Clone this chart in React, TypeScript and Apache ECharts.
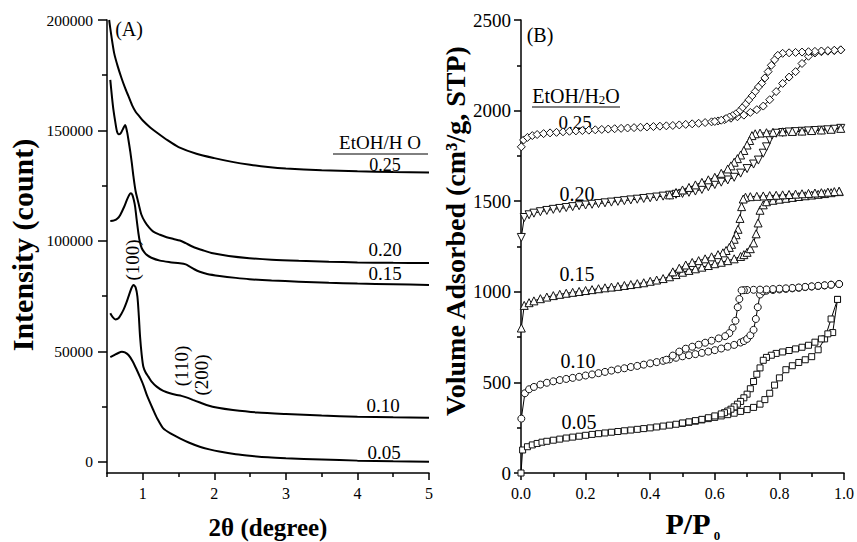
import React, { useEffect, useRef } from "react";
import * as echarts from "echarts";

const FONT = '"Liberation Serif", "Times New Roman", Times, serif';
const LABEL_FAMILY = "'Liberation Serif', 'Times New Roman', serif";

// ---------- Panel A: XRD (2theta vs intensity) ----------
const xrdX_005 = [0.546, 0.6, 0.65, 0.708, 0.75, 0.8, 0.86, 0.917, 0.96, 1.008, 1.06, 1.147, 1.2, 1.286, 1.4, 1.518, 1.65, 1.796, 1.93, 2.07, 2.3, 2.53, 2.75, 3.0, 3.5, 4.0, 4.5, 5.0];
const xrdY_005 = [47400, 48300, 49200, 49900, 49600, 48400, 45500, 41600, 38500, 34800, 30000, 23500, 19800, 15200, 12700, 10700, 8700, 6900, 5700, 4700, 3500, 2700, 2100, 1700, 1100, 600, 300, 100];

const xrdX_010 = [0.546, 0.58, 0.62, 0.66, 0.7, 0.73, 0.77, 0.8, 0.84, 0.87, 0.9, 0.925, 0.945, 0.962, 0.985, 1.008, 1.04, 1.078, 1.12, 1.194, 1.28, 1.38, 1.46, 1.54, 1.62, 1.7, 1.79, 1.89, 2.05, 2.26, 2.6, 3.0, 3.5, 4.0, 4.5, 5.0];
const xrdY_010 = [67300, 65500, 64500, 65000, 67000, 68800, 72000, 74800, 78500, 80100, 79000, 74800, 66000, 56700, 48500, 43100, 40500, 38600, 36500, 34100, 32300, 31100, 30400, 29900, 29100, 28100, 27000, 25800, 24500, 23500, 22400, 21700, 21000, 20500, 20200, 20000];

const xrdX_015 = [0.546, 0.6, 0.65, 0.685, 0.74, 0.778, 0.81, 0.833, 0.855, 0.875, 0.893, 0.915, 0.939, 0.96, 0.986, 1.02, 1.056, 1.12, 1.24, 1.38, 1.518, 1.6, 1.657, 1.72, 1.796, 1.9, 2.074, 2.3, 2.49, 2.8, 3.18, 3.6, 4.0, 4.5, 5.0];
const xrdY_015 = [109000, 109300, 110300, 111800, 115500, 118600, 120800, 121600, 120800, 118500, 115500, 109500, 103500, 99500, 96700, 95000, 93700, 92400, 91100, 90400, 89900, 89400, 88400, 87200, 86100, 85100, 84200, 83300, 82700, 82100, 81600, 81100, 80700, 80400, 80100];

const xrdX_020 = [0.546, 0.57, 0.59, 0.615, 0.64, 0.665, 0.69, 0.72, 0.754, 0.78, 0.8, 0.825, 0.847, 0.87, 0.9, 0.94, 0.98, 1.03, 1.09, 1.147, 1.24, 1.333, 1.43, 1.518, 1.6, 1.7, 1.84, 1.98, 2.2, 2.49, 2.8, 3.18, 3.6, 4.0, 4.5, 5.0];
const xrdY_020 = [172900, 165000, 159300, 154000, 149500, 148300, 148700, 150500, 152500, 149500, 145700, 140500, 135200, 129100, 122500, 117100, 112000, 108700, 106000, 104200, 102800, 101700, 100900, 100200, 99000, 97400, 95800, 94400, 93200, 92200, 91500, 91000, 90600, 90300, 90100, 90000];

const xrdX_025 = [0.53, 0.56, 0.6, 0.65, 0.7, 0.75, 0.8, 0.85, 0.9, 0.95, 1.0, 1.1, 1.2, 1.35, 1.5, 1.75, 2.0, 2.25, 2.5, 2.75, 3.0, 3.5, 4.0, 4.5, 5.0];
const xrdY_025 = [200000, 193000, 185000, 179000, 174000, 169500, 165500, 161500, 158500, 156500, 154500, 151500, 149000, 145500, 142500, 139500, 137500, 135800, 134500, 133500, 132800, 132000, 131500, 131200, 131000];

const xrdTicksMajor = [1, 2, 3, 4, 5];
const xrdTicksMinor = [0.5, 1.5, 2.5, 3.5, 4.5];
const intensityTicksMajor = [0, 50000, 100000, 150000, 200000];
const intensityTicksMinor = [25000, 75000, 125000, 175000];

// ---------- Panel B: N2 isotherms ----------
const adsX_005 = [0.0, 0.005, 0.02, 0.035, 0.05, 0.065, 0.08, 0.1, 0.12, 0.14, 0.16, 0.18, 0.2, 0.22, 0.24, 0.26, 0.28, 0.3, 0.32, 0.34, 0.36, 0.38, 0.4, 0.42, 0.44, 0.46, 0.48, 0.5, 0.52, 0.54, 0.56, 0.58, 0.6, 0.62, 0.64, 0.66, 0.68, 0.7, 0.72, 0.74, 0.755, 0.77, 0.785, 0.8, 0.82, 0.84, 0.86, 0.88, 0.9, 0.92, 0.94, 0.96, 0.98];
const adsY_005 = [0, 127, 145, 155, 163, 170, 175, 181, 187, 193, 198, 203, 208, 213, 217, 221, 225, 229, 233, 237, 241, 245, 249, 254, 259, 264, 269, 274, 280, 286, 293, 300, 307, 315, 322, 330, 340, 350, 362, 380, 405, 440, 485, 525, 570, 592, 610, 625, 642, 680, 740, 850, 958];
const desX_005 = [0.98, 0.965, 0.95, 0.93, 0.91, 0.89, 0.87, 0.85, 0.83, 0.81, 0.79, 0.775, 0.76, 0.75, 0.74, 0.73, 0.72, 0.71, 0.7, 0.69, 0.68, 0.67, 0.66, 0.65, 0.64, 0.63, 0.62, 0.6, 0.58, 0.56, 0.54, 0.52, 0.5];
const desY_005 = [958, 775, 768, 740, 722, 705, 694, 685, 676, 668, 660, 650, 638, 622, 580, 545, 505, 465, 435, 415, 395, 380, 365, 352, 342, 333, 326, 315, 305, 296, 289, 282, 276];

const adsX_010 = [0.001, 0.012, 0.025, 0.04, 0.06, 0.08, 0.1, 0.12, 0.14, 0.16, 0.18, 0.2, 0.22, 0.24, 0.26, 0.28, 0.3, 0.32, 0.34, 0.36, 0.38, 0.4, 0.42, 0.44, 0.46, 0.48, 0.5, 0.52, 0.54, 0.56, 0.58, 0.6, 0.62, 0.64, 0.66, 0.68, 0.69, 0.7, 0.71, 0.72, 0.727, 0.733, 0.74, 0.75, 0.76, 0.78, 0.8, 0.82, 0.84, 0.86, 0.88, 0.9, 0.92, 0.94, 0.96, 0.985];
const adsY_010 = [300, 440, 462, 475, 488, 498, 506, 513, 519, 525, 531, 538, 544, 551, 558, 565, 572, 578, 585, 591, 598, 605, 612, 619, 627, 636, 644, 650, 656, 663, 670, 678, 687, 697, 707, 720, 728, 740, 760, 790, 850, 915, 985, 1002, 1006, 1010, 1013, 1016, 1019, 1022, 1026, 1029, 1032, 1035, 1039, 1043];
const desX_010 = [0.985, 0.96, 0.94, 0.92, 0.9, 0.88, 0.86, 0.84, 0.82, 0.8, 0.78, 0.76, 0.74, 0.72, 0.7, 0.69, 0.683, 0.676, 0.671, 0.664, 0.655, 0.645, 0.632, 0.612, 0.59, 0.57, 0.55, 0.53, 0.51, 0.49, 0.47, 0.45];
const desY_010 = [1043, 1039, 1036, 1033, 1030, 1027, 1024, 1021, 1019, 1017, 1015, 1013, 1012, 1011, 1010, 1009, 1008, 960, 915, 840, 800, 772, 755, 743, 730, 719, 708, 697, 686, 670, 648, 625];

const adsX_015 = [0.001, 0.01, 0.025, 0.04, 0.06, 0.08, 0.1, 0.12, 0.14, 0.16, 0.18, 0.2, 0.22, 0.24, 0.26, 0.28, 0.3, 0.32, 0.34, 0.36, 0.38, 0.4, 0.42, 0.44, 0.46, 0.48, 0.5, 0.52, 0.54, 0.56, 0.58, 0.6, 0.62, 0.64, 0.66, 0.68, 0.69, 0.7, 0.71, 0.72, 0.728, 0.734, 0.74, 0.75, 0.76, 0.78, 0.8, 0.82, 0.84, 0.86, 0.88, 0.9, 0.92, 0.94, 0.96, 0.985];
const adsY_015 = [800, 925, 940, 950, 962, 971, 979, 986, 992, 997, 1002, 1007, 1012, 1017, 1022, 1026, 1030, 1035, 1040, 1045, 1050, 1058, 1065, 1073, 1083, 1095, 1108, 1118, 1127, 1136, 1145, 1155, 1163, 1172, 1182, 1195, 1205, 1218, 1238, 1270, 1320, 1380, 1450, 1480, 1497, 1505, 1511, 1516, 1521, 1526, 1530, 1534, 1538, 1542, 1547, 1553];
const desX_015 = [0.985, 0.97, 0.95, 0.93, 0.91, 0.89, 0.87, 0.85, 0.83, 0.81, 0.79, 0.77, 0.75, 0.73, 0.71, 0.695, 0.688, 0.683, 0.678, 0.672, 0.666, 0.66, 0.652, 0.645, 0.635, 0.625, 0.61, 0.59, 0.57, 0.55, 0.53, 0.51, 0.49, 0.47];
const desY_015 = [1555, 1553, 1550, 1547, 1545, 1543, 1541, 1539, 1537, 1535, 1533, 1531, 1529, 1527, 1525, 1522, 1512, 1470, 1405, 1345, 1315, 1290, 1262, 1245, 1228, 1215, 1205, 1193, 1182, 1172, 1162, 1148, 1130, 1110];

const adsX_020 = [0.001, 0.01, 0.025, 0.04, 0.06, 0.08, 0.1, 0.12, 0.14, 0.16, 0.18, 0.2, 0.22, 0.24, 0.26, 0.28, 0.3, 0.32, 0.34, 0.36, 0.38, 0.4, 0.42, 0.44, 0.46, 0.48, 0.5, 0.52, 0.54, 0.56, 0.58, 0.6, 0.62, 0.64, 0.66, 0.68, 0.7, 0.72, 0.735, 0.75, 0.76, 0.77, 0.777, 0.79, 0.81, 0.83, 0.85, 0.87, 0.89, 0.91, 0.93, 0.95, 0.97, 0.99];
const adsY_020 = [1300, 1410, 1425, 1434, 1442, 1449, 1455, 1460, 1465, 1470, 1475, 1479, 1483, 1487, 1491, 1495, 1499, 1503, 1507, 1511, 1515, 1519, 1523, 1528, 1533, 1538, 1543, 1549, 1556, 1565, 1580, 1592, 1605, 1617, 1632, 1655, 1680, 1705, 1727, 1765, 1800, 1840, 1865, 1875, 1879, 1882, 1884, 1886, 1888, 1890, 1892, 1894, 1897, 1902];
const desX_020 = [0.99, 0.96, 0.93, 0.9, 0.87, 0.84, 0.81, 0.78, 0.76, 0.74, 0.725, 0.715, 0.708, 0.7, 0.69, 0.68, 0.67, 0.66, 0.65, 0.64, 0.62, 0.6, 0.58, 0.56, 0.54, 0.52, 0.5, 0.48, 0.46];
const desY_020 = [1902, 1897, 1893, 1890, 1887, 1885, 1883, 1880, 1878, 1876, 1872, 1862, 1835, 1810, 1780, 1755, 1735, 1715, 1695, 1678, 1654, 1632, 1618, 1604, 1590, 1576, 1562, 1548, 1535];

const adsX_025 = [0.001, 0.008, 0.02, 0.035, 0.05, 0.07, 0.09, 0.11, 0.13, 0.15, 0.17, 0.19, 0.21, 0.23, 0.25, 0.27, 0.29, 0.31, 0.33, 0.35, 0.37, 0.39, 0.41, 0.43, 0.45, 0.47, 0.49, 0.51, 0.53, 0.55, 0.57, 0.59, 0.61, 0.63, 0.65, 0.67, 0.69, 0.71, 0.73, 0.75, 0.77, 0.79, 0.81, 0.83, 0.85, 0.87, 0.89, 0.91, 0.93, 0.95, 0.97, 0.99];
const adsY_025 = [1800, 1838, 1852, 1862, 1868, 1873, 1877, 1880, 1883, 1886, 1888, 1890, 1892, 1894, 1896, 1898, 1900, 1902, 1904, 1906, 1908, 1910, 1912, 1914, 1916, 1918, 1921, 1924, 1927, 1930, 1934, 1938, 1943, 1950, 1958, 1966, 1975, 1990, 2005, 2025, 2060, 2105, 2150, 2185, 2215, 2260, 2300, 2318, 2325, 2328, 2331, 2335];
const desX_025 = [0.99, 0.97, 0.95, 0.93, 0.91, 0.89, 0.87, 0.85, 0.83, 0.81, 0.795, 0.785, 0.775, 0.765, 0.755, 0.745, 0.735, 0.725, 0.715, 0.705, 0.695, 0.685, 0.675, 0.665, 0.655, 0.645, 0.635, 0.62, 0.6];
const desY_025 = [2335, 2333, 2331, 2329, 2327, 2325, 2323, 2321, 2319, 2316, 2305, 2280, 2250, 2215, 2180, 2150, 2130, 2105, 2080, 2058, 2035, 2015, 1995, 1982, 1972, 1964, 1956, 1947, 1940];

const pairs = (xs: number[], ys: number[]) => xs.map((x, i) => [x, ys[i]]);

function xrdSeries(xs: number[], ys: number[]) {
  return {
    type: "line",
    xAxisIndex: 0,
    yAxisIndex: 0,
    data: pairs(xs, ys),
    showSymbol: false,
    smooth: 0.25,
    silent: true,
    lineStyle: { color: "#000", width: 2 },
  };
}

function isoSeries(xs: number[], ys: number[], symbol: string, rotate = 0, size = 7) {
  return {
    type: "line",
    xAxisIndex: 2,
    yAxisIndex: 2,
    data: pairs(xs, ys),
    showSymbol: true,
    symbol,
    symbolSize: size,
    symbolRotate: rotate,
    silent: true,
    lineStyle: { color: "#000", width: 1 },
    itemStyle: { color: "#fff", borderColor: "#111", borderWidth: 1 },
  };
}

const axisLineStyle = { color: "#000", width: 1.5 };
const plain = (v: number) => String(v);

function text(x: number, y: number, t: string, size: number, opts: any = {}) {
  return {
    type: "text",
    x,
    y,
    rotation: opts.rotation || 0,
    silent: true,
    style: {
      text: t,
      fill: "#000",
      font: `${opts.bold ? "bold " : ""}${size}px ${FONT}`,
      align: "center",
      verticalAlign: "middle",
    },
  };
}

function uline(x1: number, x2: number, y: number) {
  return { type: "line", silent: true, shape: { x1, y1: y, x2, y2: y }, style: { stroke: "#000", lineWidth: 1 } };
}

export default function App() {
  const ref = useRef<HTMLDivElement>(null);
  useEffect(() => {
    const chart = echarts.init(ref.current!, null, { renderer: "svg" });
    const option: any = {
      animation: false,
      backgroundColor: "#fff",
      textStyle: { fontFamily: LABEL_FAMILY, color: "#000" },
      grid: [
        { left: 107, top: 20, width: 322, height: 453 },
        { left: 521, top: 20, width: 325, height: 453 },
      ],
      xAxis: [
        {
          gridIndex: 0, type: "value", position: "bottom", min: 0.5, max: 5,
          axisLine: { show: true, onZero: false, lineStyle: axisLineStyle },
          axisTick: { show: true, customValues: xrdTicksMajor, length: 7, lineStyle: axisLineStyle },
          axisLabel: { customValues: xrdTicksMajor, color: "#000", fontFamily: LABEL_FAMILY, fontSize: 16, margin: 12, formatter: plain },
          splitLine: { show: false },
        },
        {
          gridIndex: 0, type: "value", position: "bottom", min: 0.5, max: 5,
          axisLine: { show: false, onZero: false },
          axisTick: { show: true, customValues: xrdTicksMinor, length: 4, lineStyle: axisLineStyle },
          axisLabel: { show: false },
          splitLine: { show: false },
        },
        {
          gridIndex: 1, type: "value", position: "bottom", min: 0, max: 1, interval: 0.2,
          axisLine: { show: true, onZero: false, lineStyle: axisLineStyle },
          axisTick: { show: true, length: 7, lineStyle: axisLineStyle },
          minorTick: { show: true, splitNumber: 2, length: 4, lineStyle: axisLineStyle },
          axisLabel: { color: "#000", fontFamily: LABEL_FAMILY, fontSize: 16, margin: 12, formatter: (v: number) => v.toFixed(1) },
          splitLine: { show: false },
        },
      ],
      yAxis: [
        {
          gridIndex: 0, type: "value", position: "left", min: -5000, max: 200000,
          axisLine: { show: true, onZero: false, lineStyle: axisLineStyle },
          axisTick: { show: true, customValues: intensityTicksMajor, length: 9, lineStyle: axisLineStyle },
          axisLabel: { customValues: intensityTicksMajor, color: "#000", fontFamily: LABEL_FAMILY, fontSize: 15.5, margin: 14, formatter: plain },
          splitLine: { show: false },
        },
        {
          gridIndex: 0, type: "value", position: "left", min: -5000, max: 200000,
          axisLine: { show: false, onZero: false },
          axisTick: { show: true, customValues: intensityTicksMinor, length: 5, lineStyle: axisLineStyle },
          axisLabel: { show: false },
          splitLine: { show: false },
        },
        {
          gridIndex: 1, type: "value", position: "left", min: 0, max: 2500, interval: 500,
          axisLine: { show: true, onZero: false, lineStyle: axisLineStyle },
          axisTick: { show: true, length: 7, lineStyle: axisLineStyle },
          minorTick: { show: true, splitNumber: 2, length: 4, lineStyle: axisLineStyle },
          axisLabel: { color: "#000", fontFamily: LABEL_FAMILY, fontSize: 19, margin: 10, formatter: plain },
          splitLine: { show: false },
        },
      ],
      series: [
        xrdSeries(xrdX_005, xrdY_005),
        xrdSeries(xrdX_010, xrdY_010),
        xrdSeries(xrdX_015, xrdY_015),
        xrdSeries(xrdX_020, xrdY_020),
        xrdSeries(xrdX_025, xrdY_025),
        isoSeries(adsX_005, adsY_005, "rect", 0, 6),
        isoSeries(desX_005, desY_005, "rect", 0, 6),
        isoSeries(adsX_010, adsY_010, "circle", 0, 7),
        isoSeries(desX_010, desY_010, "circle", 0, 7),
        isoSeries(adsX_015, adsY_015, "triangle", 0, 8),
        isoSeries(desX_015, desY_015, "triangle", 0, 8),
        isoSeries(adsX_020, adsY_020, "triangle", 180, 8),
        isoSeries(desX_020, desY_020, "triangle", 0, 8),
        isoSeries(adsX_025, adsY_025, "diamond", 0, 8),
        isoSeries(desX_025, desY_025, "diamond", 0, 8),
      ],
      graphic: [
        // Panel A texts
        text(129, 29, "(A)", 20),
        text(380, 142, "EtOH/H O", 19),
        uline(333, 428, 154),
        text(385, 165, "0.25", 18),
        text(385, 249, "0.20", 19),
        text(385, 273, "0.15", 19),
        text(383, 405, "0.10", 19),
        text(384, 452, "0.05", 19),
        text(132.5, 260, "(100)", 19, { rotation: Math.PI / 2 }),
        text(181.5, 366, "(110)", 19, { rotation: Math.PI / 2 }),
        text(201.5, 375, "(200)", 19, { rotation: Math.PI / 2 }),
        text(22, 245, "Intensity (count)", 30, { bold: true, rotation: Math.PI / 2 }),
        text(268, 527, "2θ (degree)", 25, { bold: true }),
        // Panel B texts
        text(540, 35, "(B)", 20),
        {
          type: "text", x: 576, y: 95, silent: true,
          style: {
            text: "{a|EtOH/H}{b|2}{a|O}",
            align: "center",
            verticalAlign: "middle",
            fill: "#000",
            rich: {
              a: { fontFamily: LABEL_FAMILY, fontSize: 20, fill: "#000", lineHeight: 22, verticalAlign: "bottom" },
              b: { fontFamily: LABEL_FAMILY, fontSize: 13, fill: "#000", lineHeight: 22, verticalAlign: "bottom" },
            },
          },
        },
        uline(532, 620, 107),
        text(575, 122, "0.25", 19),
        text(577, 194, "0.20", 20),
        text(577, 274, "0.15", 20),
        text(578, 361, "0.10", 20),
        text(579, 422, "0.05", 20),
        text(455, 231, "Volume Adsorbed (cm³/g, STP)", 28, { bold: true, rotation: Math.PI / 2 }),
        text(688, 523, "P/P", 30, { bold: true }),
        text(717, 535, "0", 13, { bold: true }),
      ],
    };
    chart.setOption(option);
    return () => chart.dispose();
  }, []);
  return (
    <div
      ref={ref}
      style={{ position: "fixed", left: 0, top: 0, width: 857, height: 542, background: "#fff" }}
    />
  );
}
